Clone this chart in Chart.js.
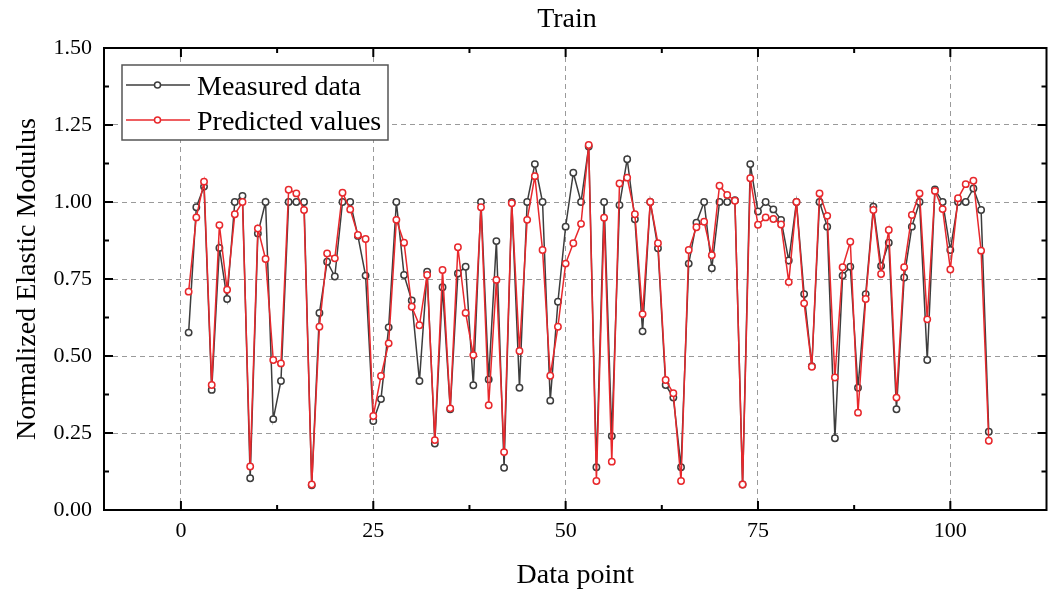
<!DOCTYPE html>
<html><head><meta charset="utf-8">
<script src="https://cdn.jsdelivr.net/npm/chart.js@4.4.0/dist/chart.umd.min.js"></script>
<style>html,body{margin:0;padding:0;background:#fff}</style>
</head><body>
<canvas id="c" width="1052" height="595"></canvas>
<script>
const dataPoints = [1,2,3,4,5,6,7,8,9,10,11,12,13,14,15,16,17,18,19,20,21,22,23,24,25,26,27,28,29,30,31,32,33,34,35,36,37,38,39,40,41,42,43,44,45,46,47,48,49,50,51,52,53,54,55,56,57,58,59,60,61,62,63,64,65,66,67,68,69,70,71,72,73,74,75,76,77,78,79,80,81,82,83,84,85,86,87,88,89,90,91,92,93,94,95,96,97,98,99,100,101,102,103,104,105];
const measured = [0.576,0.983,1.05,0.39,0.851,0.685,1.0,1.02,0.103,0.898,1.0,0.295,0.419,1.0,1.0,1.0,0.08,0.64,0.806,0.758,1.0,1.0,0.89,0.761,0.289,0.36,0.593,1.0,0.763,0.68,0.419,0.774,0.216,0.723,0.327,0.768,0.79,0.405,1.0,0.424,0.873,0.137,1.0,0.397,1.0,1.123,1.0,0.355,0.676,0.92,1.095,1.0,1.18,0.139,1.0,0.24,0.99,1.139,0.944,0.58,1.0,0.85,0.406,0.365,0.139,0.80,0.933,1.0,0.785,1.0,1.0,1.006,0.083,1.123,0.969,1.0,0.976,0.942,0.81,1.0,0.701,0.467,1.0,0.92,0.233,0.761,0.79,0.397,0.701,0.985,0.792,0.868,0.327,0.755,0.92,1.0,0.487,1.041,1.0,0.844,1.0,1.0,1.044,0.974,0.254];
const predicted = [0.709,0.950,1.066,0.406,0.925,0.715,0.96,1.0,0.141,0.914,0.815,0.487,0.476,1.04,1.028,0.974,0.083,0.595,0.833,0.817,1.03,0.976,0.893,0.88,0.305,0.435,0.541,0.942,0.868,0.66,0.60,0.763,0.227,0.779,0.33,0.853,0.64,0.503,0.983,0.34,0.747,0.188,0.996,0.516,0.942,1.084,0.844,0.436,0.595,0.80,0.866,0.929,1.185,0.094,0.949,0.157,1.06,1.079,0.96,0.636,1.0,0.866,0.422,0.379,0.094,0.844,0.918,0.936,0.827,1.053,1.023,1.004,0.083,1.077,0.926,0.95,0.945,0.927,0.74,1.0,0.671,0.465,1.028,0.955,0.43,0.788,0.871,0.316,0.685,0.974,0.766,0.909,0.365,0.788,0.958,1.028,0.619,1.036,0.977,0.781,1.012,1.058,1.069,0.842,0.225];
const xTicks = [0,25,50,75,100];
const xMinorTicks = [12.5,37.5,62.5,87.5];
const yTicks = [0,0.25,0.5,0.75,1.0,1.25,1.5];
const yMinorTicks = [0.125,0.375,0.625,0.875,1.125,1.375];
const seriesNames = ['Measured data','Predicted values'];
const titleText = 'Train';

const BLACK = '#3d3d3d', RED = '#e8282c';
const SERIF = '"Liberation Serif", "Times New Roman", serif';

const toXY = (ys) => dataPoints.map((x, i) => ({x: x, y: ys[i]}));

const decor = {
  id: 'decor',
  afterDraw(chart) {
    const ctx = chart.ctx, a = chart.chartArea;
    const xs = chart.scales.x, ys = chart.scales.y;
    ctx.save();
    // frame
    ctx.strokeStyle = '#000'; ctx.lineWidth = 2;
    ctx.strokeRect(a.left, a.top, a.right - a.left, a.bottom - a.top);
    // ticks
    ctx.lineWidth = 2;
    const MAJ = 9, MIN = 5;
    ctx.beginPath();
    xTicks.forEach(v => { const p = xs.getPixelForValue(v);
      ctx.moveTo(p, a.bottom); ctx.lineTo(p, a.bottom - MAJ);
      ctx.moveTo(p, a.top); ctx.lineTo(p, a.top + MAJ); });
    xMinorTicks.forEach(v => { const p = xs.getPixelForValue(v);
      ctx.moveTo(p, a.bottom); ctx.lineTo(p, a.bottom - MIN);
      ctx.moveTo(p, a.top); ctx.lineTo(p, a.top + MIN); });
    yTicks.forEach(v => { const p = ys.getPixelForValue(v);
      ctx.moveTo(a.left, p); ctx.lineTo(a.left + MAJ, p);
      ctx.moveTo(a.right, p); ctx.lineTo(a.right - MAJ, p); });
    yMinorTicks.forEach(v => { const p = ys.getPixelForValue(v);
      ctx.moveTo(a.left, p); ctx.lineTo(a.left + MIN, p);
      ctx.moveTo(a.right, p); ctx.lineTo(a.right - MIN, p); });
    ctx.stroke();
    // title
    ctx.fillStyle = '#000';
    ctx.font = '28px ' + SERIF;
    ctx.textAlign = 'center'; ctx.textBaseline = 'alphabetic';
    ctx.fillText(titleText, 567, 27);
    // legend
    const bx = 122, by = 65, bw = 266, bh = 75;
    ctx.fillStyle = '#fff';
    ctx.fillRect(bx, by, bw, bh);
    ctx.strokeStyle = '#555'; ctx.lineWidth = 1.5;
    ctx.strokeRect(bx, by, bw, bh);
    const cols = [BLACK, RED];
    const rowsY = [85, 120], baseY = [95, 129.5];
    for (let i = 0; i < 2; i++) {
      ctx.strokeStyle = cols[i]; ctx.lineWidth = 1.5;
      ctx.beginPath(); ctx.moveTo(126, rowsY[i]); ctx.lineTo(190, rowsY[i]); ctx.stroke();
      ctx.beginPath(); ctx.arc(157.5, rowsY[i], 3, 0, Math.PI * 2);
      ctx.fillStyle = '#fff'; ctx.fill(); ctx.stroke();
      ctx.fillStyle = '#000';
      ctx.font = '28px ' + SERIF;
      ctx.textAlign = 'left'; ctx.textBaseline = 'alphabetic';
      ctx.fillText(seriesNames[i], 197, baseY[i]);
    }
    ctx.restore();
  }
};

new Chart(document.getElementById('c'), {
  type: 'line',
  data: {
    datasets: [
      { label: seriesNames[0], data: toXY(measured), borderColor: BLACK, backgroundColor: '#fff',
        borderWidth: 1.5, pointRadius: 3.2, pointBorderWidth: 1.5, pointBackgroundColor: '#fff',
        pointBorderColor: BLACK, tension: 0, order: 2 },
      { label: seriesNames[1], data: toXY(predicted), borderColor: RED, backgroundColor: '#fff',
        borderWidth: 1.5, pointRadius: 3.2, pointBorderWidth: 1.5, pointBackgroundColor: '#fff',
        pointBorderColor: RED, tension: 0, order: 1 }
    ]
  },
  options: {
    responsive: false, animation: false, devicePixelRatio: 1,
    layout: { padding: { top: 48, right: 5, left: 0, bottom: 0 } },
    plugins: { legend: { display: false }, title: { display: false }, tooltip: { enabled: false } },
    scales: {
      x: {
        type: 'linear', min: -10, max: 112.5,
        afterBuildTicks: s => { s.ticks = xTicks.map(v => ({ value: v })); },
        afterFit: s => { s.height = 85; },
        ticks: { color: '#000', font: { family: SERIF, size: 22 }, padding: 8, maxRotation: 0,
                 callback: v => String(v) },
        grid: { color: '#9a9a9a', lineWidth: 1, drawTicks: false },
        border: { display: false, dash: [5, 4] },
        title: { display: true, text: 'Data point', color: '#000',
                 font: { family: SERIF, size: 28 }, padding: { top: 0, bottom: 3 } }
      },
      y: {
        type: 'linear', min: 0, max: 1.5,
        afterBuildTicks: s => { s.ticks = yTicks.map(v => ({ value: v })); },
        afterFit: s => { s.width = 104; },
        ticks: { color: '#000', font: { family: SERIF, size: 22 }, padding: 12,
                 callback: v => Number(v).toFixed(2) },
        grid: { color: '#9a9a9a', lineWidth: 1, drawTicks: false },
        border: { display: false, dash: [5, 4] },
        title: { display: true, text: 'Normalized Elastic Modulus', color: '#000',
                 font: { family: SERIF, size: 28 }, padding: { top: 11, bottom: 0 } }
      }
    }
  },
  plugins: [decor]
});
</script>
</body></html>
